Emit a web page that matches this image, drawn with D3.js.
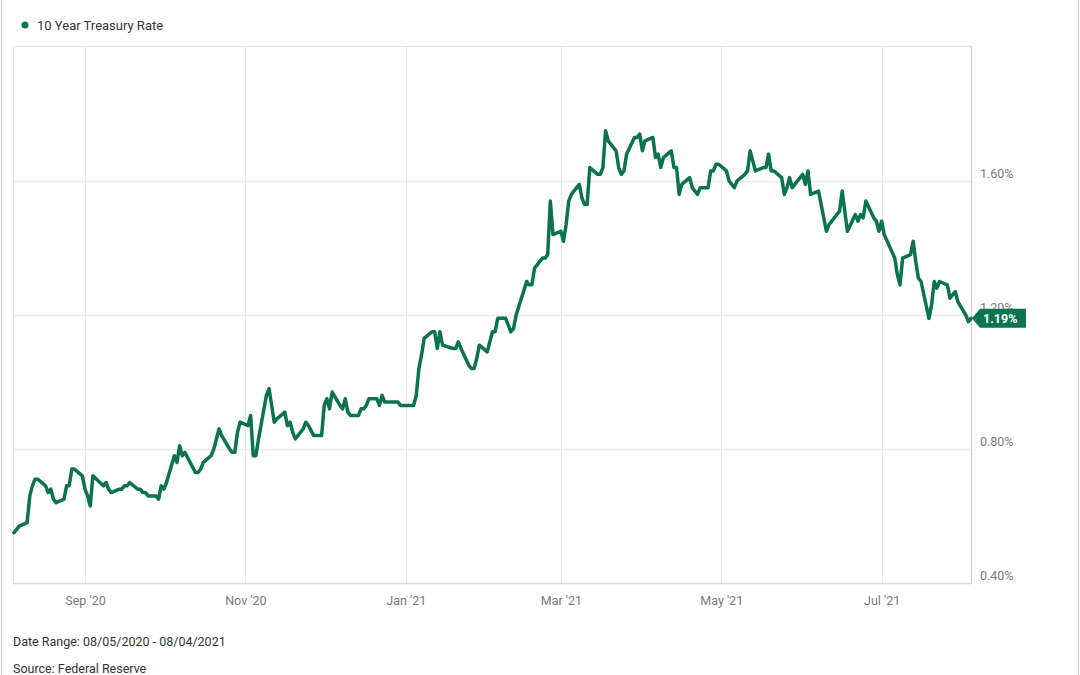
<!DOCTYPE html>
<html>
<head>
<meta charset="utf-8">
<script src="https://cdn.jsdelivr.net/npm/d3@7"></script>
<style>
  body { margin: 0; background: #fff; }
  svg { display: block; font-family: Roboto, "Noto Sans", sans-serif; }
</style>
</head>
<body>
<div id="chart"></div>
<script>
'use strict';

const seriesName = "10 Year Treasury Rate";
const footerLines = ["Date Range: 08/05/2020 - 08/04/2021", "Source: Federal Reserve"];

const xTicks = ["2020-09-01", "2020-11-01", "2021-01-01", "2021-03-01", "2021-05-01", "2021-07-01"];
const yTicks = [0.4, 0.8, 1.2, 1.6];
const dateDomain = ["2020-08-05", "2021-08-04"];
const rateDomain = [0.4, 2.0];

// daily 10y rate
const rates = [
  ["2020-08-05",0.55],["2020-08-06",0.56],["2020-08-07",0.57],["2020-08-10",0.58],["2020-08-11",0.66],
  ["2020-08-12",0.69],["2020-08-13",0.71],["2020-08-14",0.71],["2020-08-17",0.69],["2020-08-18",0.67],
  ["2020-08-19",0.68],["2020-08-20",0.65],["2020-08-21",0.64],["2020-08-24",0.65],["2020-08-25",0.69],
  ["2020-08-26",0.69],["2020-08-27",0.74],["2020-08-28",0.74],["2020-08-31",0.72],
  ["2020-09-01",0.68],["2020-09-02",0.66],["2020-09-03",0.63],["2020-09-04",0.72],["2020-09-08",0.69],
  ["2020-09-09",0.70],["2020-09-10",0.68],["2020-09-11",0.67],["2020-09-14",0.68],["2020-09-15",0.68],
  ["2020-09-16",0.69],["2020-09-17",0.69],["2020-09-18",0.70],["2020-09-21",0.68],["2020-09-22",0.68],
  ["2020-09-23",0.67],["2020-09-24",0.67],["2020-09-25",0.66],["2020-09-28",0.66],["2020-09-29",0.65],
  ["2020-09-30",0.69],
  ["2020-10-01",0.68],["2020-10-02",0.70],["2020-10-05",0.78],["2020-10-06",0.76],["2020-10-07",0.81],
  ["2020-10-08",0.78],["2020-10-09",0.79],["2020-10-13",0.73],["2020-10-14",0.73],["2020-10-15",0.74],
  ["2020-10-16",0.76],["2020-10-19",0.78],["2020-10-20",0.80],["2020-10-21",0.83],["2020-10-22",0.86],
  ["2020-10-23",0.84],["2020-10-26",0.80],["2020-10-27",0.79],["2020-10-28",0.79],["2020-10-29",0.85],
  ["2020-10-30",0.88],
  ["2020-11-02",0.87],["2020-11-03",0.90],["2020-11-04",0.78],["2020-11-05",0.78],["2020-11-06",0.83],
  ["2020-11-09",0.96],["2020-11-10",0.98],["2020-11-12",0.88],["2020-11-13",0.89],["2020-11-16",0.91],
  ["2020-11-17",0.87],["2020-11-18",0.88],["2020-11-19",0.85],["2020-11-20",0.83],["2020-11-23",0.86],
  ["2020-11-24",0.88],["2020-11-25",0.87],["2020-11-27",0.84],["2020-11-30",0.84],
  ["2020-12-01",0.93],["2020-12-02",0.95],["2020-12-03",0.92],["2020-12-04",0.97],["2020-12-07",0.93],
  ["2020-12-08",0.92],["2020-12-09",0.95],["2020-12-10",0.91],["2020-12-11",0.90],["2020-12-14",0.90],
  ["2020-12-15",0.92],["2020-12-16",0.92],["2020-12-17",0.93],["2020-12-18",0.95],["2020-12-21",0.95],
  ["2020-12-22",0.93],["2020-12-23",0.96],["2020-12-24",0.94],["2020-12-28",0.94],["2020-12-29",0.94],
  ["2020-12-30",0.93],["2020-12-31",0.93],
  ["2021-01-04",0.93],["2021-01-05",0.96],["2021-01-06",1.04],["2021-01-07",1.08],["2021-01-08",1.13],
  ["2021-01-11",1.15],["2021-01-12",1.15],["2021-01-13",1.10],["2021-01-14",1.15],["2021-01-15",1.11],
  ["2021-01-19",1.10],["2021-01-20",1.10],["2021-01-21",1.12],["2021-01-22",1.10],["2021-01-25",1.05],
  ["2021-01-26",1.04],["2021-01-27",1.04],["2021-01-28",1.07],["2021-01-29",1.11],
  ["2021-02-01",1.09],["2021-02-02",1.12],["2021-02-03",1.15],["2021-02-04",1.15],["2021-02-05",1.19],
  ["2021-02-08",1.19],["2021-02-09",1.17],["2021-02-10",1.15],["2021-02-11",1.16],["2021-02-12",1.20],
  ["2021-02-16",1.30],["2021-02-17",1.29],["2021-02-18",1.29],["2021-02-19",1.34],["2021-02-22",1.37],
  ["2021-02-23",1.37],["2021-02-24",1.38],["2021-02-25",1.54],["2021-02-26",1.44],
  ["2021-03-01",1.45],["2021-03-02",1.42],["2021-03-03",1.47],["2021-03-04",1.54],["2021-03-05",1.56],
  ["2021-03-08",1.59],["2021-03-09",1.55],["2021-03-10",1.53],["2021-03-11",1.53],["2021-03-12",1.64],
  ["2021-03-15",1.62],["2021-03-16",1.62],["2021-03-17",1.64],["2021-03-18",1.75],["2021-03-19",1.72],
  ["2021-03-22",1.69],["2021-03-23",1.64],["2021-03-24",1.62],["2021-03-25",1.63],["2021-03-26",1.68],
  ["2021-03-29",1.73],["2021-03-30",1.73],["2021-03-31",1.74],
  ["2021-04-01",1.69],["2021-04-02",1.72],["2021-04-05",1.73],["2021-04-06",1.67],["2021-04-07",1.68],
  ["2021-04-08",1.64],["2021-04-09",1.67],["2021-04-12",1.69],["2021-04-13",1.64],["2021-04-14",1.64],
  ["2021-04-15",1.56],["2021-04-16",1.59],["2021-04-19",1.61],["2021-04-20",1.58],["2021-04-21",1.57],
  ["2021-04-22",1.56],["2021-04-23",1.58],["2021-04-26",1.58],["2021-04-27",1.63],["2021-04-28",1.63],
  ["2021-04-29",1.65],["2021-04-30",1.65],
  ["2021-05-03",1.63],["2021-05-04",1.60],["2021-05-05",1.59],["2021-05-06",1.58],["2021-05-07",1.60],
  ["2021-05-10",1.62],["2021-05-11",1.63],["2021-05-12",1.69],["2021-05-13",1.66],["2021-05-14",1.63],
  ["2021-05-17",1.64],["2021-05-18",1.64],["2021-05-19",1.68],["2021-05-20",1.63],["2021-05-21",1.63],
  ["2021-05-24",1.61],["2021-05-25",1.56],["2021-05-26",1.58],["2021-05-27",1.61],["2021-05-28",1.58],
  ["2021-06-01",1.62],["2021-06-02",1.59],["2021-06-03",1.63],["2021-06-04",1.56],["2021-06-07",1.57],
  ["2021-06-08",1.53],["2021-06-09",1.49],["2021-06-10",1.45],["2021-06-11",1.47],["2021-06-14",1.50],
  ["2021-06-15",1.51],["2021-06-16",1.57],["2021-06-17",1.51],["2021-06-18",1.45],["2021-06-21",1.50],
  ["2021-06-22",1.48],["2021-06-23",1.50],["2021-06-24",1.49],["2021-06-25",1.54],["2021-06-28",1.49],
  ["2021-06-29",1.48],["2021-06-30",1.45],
  ["2021-07-01",1.48],["2021-07-02",1.44],["2021-07-06",1.37],["2021-07-07",1.32],["2021-07-08",1.29],
  ["2021-07-09",1.37],["2021-07-12",1.38],["2021-07-13",1.42],["2021-07-14",1.36],["2021-07-15",1.31],
  ["2021-07-16",1.30],["2021-07-19",1.19],["2021-07-20",1.23],["2021-07-21",1.30],["2021-07-22",1.28],
  ["2021-07-23",1.30],["2021-07-26",1.29],["2021-07-27",1.25],["2021-07-28",1.26],["2021-07-29",1.27],
  ["2021-07-30",1.24],
  ["2021-08-02",1.20],["2021-08-03",1.18],["2021-08-04",1.19]
];

const width = 1080, height = 675;
const green = "#0b7352";
const parse = d3.timeParse("%Y-%m-%d");
const data = rates.map(d => ({date: parse(d[0]), value: d[1]}));

const plot = {left: 14, right: 971, top: 47, bottom: 583};

let x = d3.scaleTime()
    .domain(dateDomain.map(parse))
    .range([plot.left, plot.right]);

let y = d3.scaleLinear()
    .domain(rateDomain)
    .range([plot.bottom, plot.top]);

let svg = d3.select("#chart").append("svg")
    .attr("width", width)
    .attr("height", height);

// outer card edges
svg.append("line").attr("x1", 1.5).attr("x2", 1.5).attr("y1", 0).attr("y2", height)
    .attr("stroke", "#cfcfcf");
svg.append("line").attr("x1", width - 1.5).attr("x2", width - 1.5).attr("y1", 0).attr("y2", height)
    .attr("stroke", "#cfcfcf");

// legend
svg.append("circle").attr("cx", 25).attr("cy", 25).attr("r", 3.5).attr("fill", green);
svg.append("text").attr("x", 37).attr("y", 29.5)
    .attr("font-size", 13).attr("fill", "#333")
    .text(seriesName);

// grid
let grid = svg.append("g");
grid.selectAll(".vgrid")
    .data(xTicks.map(parse))
    .join("line")
    .attr("x1", d => Math.round(x(d)) + 0.5)
    .attr("x2", d => Math.round(x(d)) + 0.5)
    .attr("y1", plot.top)
    .attr("y2", plot.bottom)
    .attr("stroke", "#e8e8e8");
grid.selectAll(".hgrid")
    .data(yTicks.slice(1))
    .join("line")
    .attr("x1", plot.left - 1)
    .attr("x2", plot.right)
    .attr("y1", d => Math.round(y(d)) + 0.5)
    .attr("y2", d => Math.round(y(d)) + 0.5)
    .attr("stroke", "#ececec")
    .attr("stroke-width", 1.5);

// frame
svg.append("path")
    .attr("d", `M${plot.left - 0.5},${plot.bottom}V${plot.top - 0.5}H${plot.right}`)
    .attr("fill", "none").attr("stroke", "#e4e4e4");
svg.append("line")
    .attr("x1", plot.left - 1).attr("x2", plot.right)
    .attr("y1", plot.bottom + 0.5).attr("y2", plot.bottom + 0.5)
    .attr("stroke", "#dcdcdc").attr("stroke-width", 1.5);
svg.append("line")
    .attr("x1", plot.right + 0.5).attr("x2", plot.right + 0.5)
    .attr("y1", plot.top - 1).attr("y2", plot.bottom + 1)
    .attr("stroke", "#cccccc");

// axes (labels only)
svg.append("g")
    .attr("transform", `translate(0,${plot.bottom})`)
    .call(d3.axisBottom(x).tickValues(xTicks.map(parse)).tickFormat(d3.timeFormat("%b '%y")).tickSize(0).tickPadding(13))
    .call(g => g.select(".domain").remove())
    .selectAll("text")
    .attr("font-family", "Roboto, sans-serif")
    .attr("font-size", 12.5)
    .attr("fill", "#7a7a7a");

svg.append("g")
    .attr("transform", `translate(${plot.right},0)`)
    .call(d3.axisRight(y).tickValues(yTicks).tickFormat(d => d3.format(".2f")(d) + "%").tickSize(0).tickPadding(9))
    .call(g => g.select(".domain").remove())
    .selectAll("text")
    .attr("font-family", "Roboto, sans-serif")
    .attr("font-size", 12.5)
    .attr("fill", "#7a7a7a")
    .attr("dy", "-0.25em");

// series line
let line = d3.line()
    .x(d => x(d.date))
    .y(d => y(d.value));

svg.append("path")
    .datum(data)
    .attr("d", line)
    .attr("fill", "none")
    .attr("stroke", green)
    .attr("stroke-width", 3.5)
    .attr("stroke-linejoin", "round")
    .attr("stroke-linecap", "round");

// last value tag, drawn over the 1.20% label as in the source
let last = data[data.length - 1];
let tx = x(last.date) + 1, ty = y(last.value);
svg.append("path")
    .attr("d", `M${tx},${ty}L${tx + 8},${ty - 9.5}H${tx + 54}V${ty + 9.5}H${tx + 8}Z`)
    .attr("fill", green);
svg.append("text")
    .attr("x", tx + 11)
    .attr("y", ty + 4.5)
    .attr("font-size", 12.5)
    .attr("font-weight", "bold")
    .attr("fill", "#fff")
    .text(d3.format(".2f")(last.value) + "%");

// footer
svg.selectAll(".footer")
    .data(footerLines)
    .join("text")
    .attr("x", 13)
    .attr("y", (d, i) => 646 + i * 27)
    .attr("font-size", 12.5)
    .attr("fill", "#333")
    .text(d => d);
</script>
</body>
</html>
